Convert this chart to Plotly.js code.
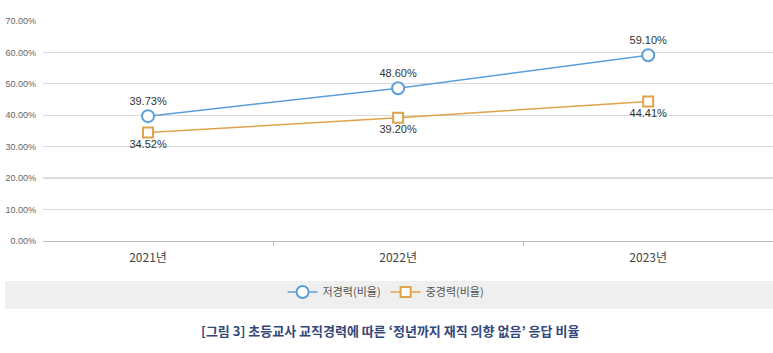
<!DOCTYPE html>
<html>
<head>
<meta charset="utf-8">
<script src="https://cdn.plot.ly/plotly-3.0.1.min.js"></script>
<style>html,body{margin:0;padding:0;background:#fff;}#chart{width:773px;height:353px;}</style>
</head>
<body>
<div id="chart"></div>
<script>
const categories = ['2021년', '2022년', '2023년'];
const lowCareer = [39.73, 48.60, 59.10];
const midCareer = [34.52, 39.20, 44.41];
const seriesNames = ['저경력(비율)', '중경력(비율)'];
const yTicks = [0, 10, 20, 30, 40, 50, 60, 70];
const chartTitle = "[그림 3] 초등교사 교직경력에 따른 ‘정년까지 재직 의향 없음’ 응답 비율";

const FONT = 'Liberation Sans, Noto Sans CJK KR, sans-serif';
const KFONT = 'Noto Sans CJK KR, Liberation Sans, sans-serif';
const fmt = v => v.toFixed(2) + '%';

const traces = [
  {
    x: categories, y: lowCareer, name: seriesNames[0], type: 'scatter', mode: 'lines+markers+text',
    line: {color: '#5b9fd9', width: 1.5},
    marker: {symbol: 'circle', size: 12, color: '#ffffff', line: {color: '#5b9fd9', width: 2}},
    text: lowCareer.map(fmt), textposition: 'top center',
    textfont: {family: FONT, size: 11, color: '#333333'},
    cliponaxis: false
  },
  {
    x: categories, y: midCareer, name: seriesNames[1], type: 'scatter', mode: 'lines+markers+text',
    line: {color: '#e0a24a', width: 1.5},
    marker: {symbol: 'square', size: 10, color: '#ffffff', line: {color: '#e0a24a', width: 2}},
    text: midCareer.map(fmt), textposition: 'bottom center',
    textfont: {family: FONT, size: 11, color: '#333333'},
    cliponaxis: false
  }
];

const layout = {
  width: 773, height: 353,
  margin: {l: 43, r: 0, t: 21, b: 112},
  paper_bgcolor: '#ffffff', plot_bgcolor: '#ffffff',
  showlegend: true,
  font: {family: FONT},
  xaxis: {
    type: 'category', range: [-0.42, 2.499],
    showgrid: false, zeroline: false,
    showline: true, linecolor: '#bdbdbd', linewidth: 1,
    ticks: 'outside', tickson: 'boundaries', ticklen: 4, tickcolor: '#bdbdbd',
    tickfont: {family: KFONT, size: 12, color: '#444444'},
    ticklabelstandoff: 6,
    fixedrange: true
  },
  yaxis: {
    range: [0, 70], tickvals: yTicks, ticktext: yTicks.map(v => v.toFixed(2) + '%'),
    showgrid: true, gridcolor: '#d9d9d9', gridwidth: 1, zeroline: false,
    showline: false, ticks: '',
    tickfont: {family: FONT, size: 9, color: '#666666'},
    ticklabelstandoff: 6,
    fixedrange: true
  },
  legend: {
    orientation: 'h', x: 0.47, xanchor: 'center', y: -0.232, yanchor: 'middle',
    bgcolor: 'rgba(0,0,0,0)', font: {family: KFONT, size: 11, color: '#555555'},
    tracegroupgap: 0
  },
  shapes: [
    {type: 'rect', xref: 'paper', yref: 'paper', x0: -0.052, x1: 1, y0: -0.182, y1: -0.309,
     fillcolor: '#efefef', line: {width: 0}, layer: 'below'},
    {type: 'line', xref: 'paper', yref: 'y', x0: 0, x1: 1, y0: 20, y1: 20,
     line: {color: '#a8a8a8', width: 1}, layer: 'below'}
  ],
  annotations: [
    {text: '<b>' + chartTitle + '</b>', xref: 'paper', yref: 'paper', x: 0.475, y: -0.409,
     xanchor: 'center', yanchor: 'middle', showarrow: false,
     font: {family: KFONT, size: 13, color: '#34477a'}}
  ]
};

Plotly.newPlot('chart', traces, layout, {displayModeBar: false, staticPlot: true});
</script>
</body>
</html>
